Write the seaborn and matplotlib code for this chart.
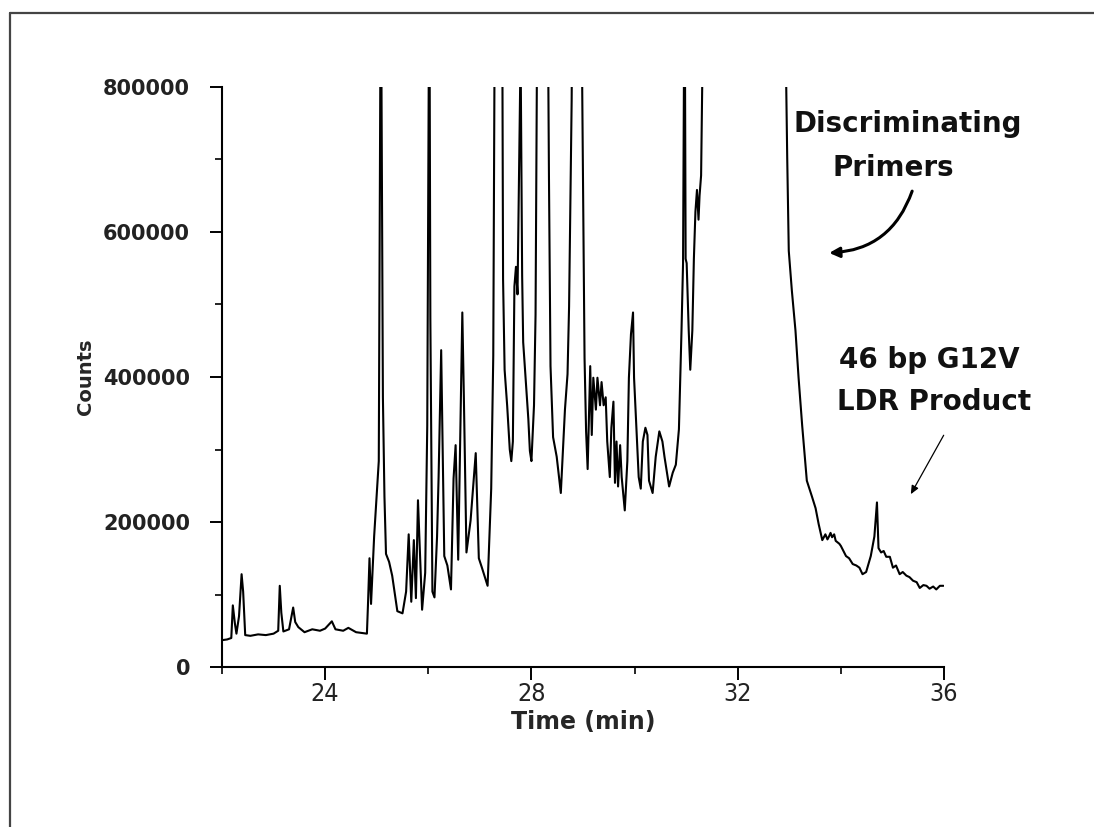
import numpy as np
import pandas as pd
import matplotlib
matplotlib.use("Agg")
import matplotlib.pyplot as plt
import seaborn as sns
from matplotlib.patches import FancyArrowPatch
from matplotlib.lines import Line2D
from matplotlib.ticker import MultipleLocator

# ---- data (time in min, counts) ----
time_min = [
    22.00, 22.10, 22.18, 22.21, 22.25, 22.28, 22.33, 22.38, 22.41, 22.45,
    22.55, 22.70, 22.85, 23.00, 23.09, 23.12, 23.15, 23.19, 23.30, 23.38,
    23.42, 23.48, 23.60, 23.75, 23.90, 24.00, 24.13, 24.20, 24.35, 24.45,
    24.60, 24.81, 24.83, 24.86, 24.89, 24.95, 25.00, 25.04, 25.08, 25.12,
    25.15, 25.18, 25.24, 25.30, 25.40, 25.50, 25.57, 25.62, 25.67, 25.72,
    25.76, 25.80, 25.88, 25.94, 25.98, 26.02, 26.04, 26.08, 26.12, 26.17,
    26.20, 26.25, 26.27, 26.31, 26.37, 26.44, 26.49, 26.53, 26.58, 26.66,
    26.69, 26.74, 26.82, 26.92, 26.98, 27.04, 27.15, 27.22, 27.26, 27.30,
    27.36, 27.43, 27.45, 27.48, 27.53, 27.58, 27.61, 27.64, 27.67, 27.70,
    27.73, 27.79, 27.82, 27.84, 27.90, 27.94, 27.97, 28.00, 28.05, 28.08,
    28.12, 28.20, 28.31, 28.34, 28.37, 28.42, 28.49, 28.57, 28.65, 28.70,
    28.73, 28.78, 28.82, 28.90, 28.96, 29.00, 29.03, 29.06, 29.09, 29.14,
    29.17, 29.20, 29.25, 29.28, 29.33, 29.36, 29.40, 29.44, 29.47, 29.52,
    29.55, 29.59, 29.62, 29.65, 29.68, 29.72, 29.75, 29.81, 29.86, 29.89,
    29.93, 29.97, 29.99, 30.03, 30.08, 30.12, 30.16, 30.21, 30.25, 30.28,
    30.35, 30.41, 30.48, 30.54, 30.58, 30.67, 30.74, 30.80, 30.86, 30.91,
    30.94, 30.97, 30.99, 31.01, 31.05, 31.08, 31.12, 31.15, 31.18, 31.21,
    31.24, 31.26, 31.29, 31.33, 31.40, 31.80, 32.40, 32.85, 32.94, 32.96,
    32.99, 33.05, 33.12, 33.18, 33.25, 33.30, 33.34, 33.39, 33.44, 33.51,
    33.57, 33.64, 33.70, 33.74, 33.77, 33.80, 33.83, 33.87, 33.90, 33.97,
    34.00, 34.05, 34.10, 34.16, 34.23, 34.30, 34.36, 34.42, 34.49, 34.58,
    34.65, 34.70, 34.73, 34.78, 34.83, 34.88, 34.95, 35.01, 35.07, 35.14,
    35.20, 35.27, 35.33, 35.40, 35.47, 35.53, 35.60, 35.66, 35.72, 35.79,
    35.85, 35.92, 35.99,
]
counts_k = [
    37, 38, 40, 85, 60, 46, 70, 128, 104, 44,
    43, 45, 44, 46, 50, 112, 75, 49, 52, 82,
    62, 55, 48, 52, 50, 53, 63, 52, 50, 54,
    48, 46, 85, 150, 87, 180, 238, 284, 1000, 372,
    235, 156, 145, 126, 77, 74, 104, 183, 90, 175,
    95, 230, 79, 130, 333, 1000, 481, 104, 96, 180,
    262, 437, 344, 153, 140, 107, 260, 306, 148, 489,
    372, 158, 202, 295, 150, 137, 112, 246, 429, 1100,
    1500, 1000, 535, 410, 360, 300, 284, 311, 525, 552,
    514, 850, 540, 448, 383, 342, 298, 284, 361, 486,
    1000, 1300, 1000, 675, 415, 317, 290, 240, 355, 404,
    497, 781, 1200, 1500, 1000, 675, 426, 325, 273, 415,
    320, 399, 355, 399, 361, 393, 361, 372, 311, 262,
    330, 366, 254, 311, 249, 306, 262, 216, 284, 399,
    459, 489, 399, 339, 262, 246, 311, 330, 320, 257,
    240, 290, 325, 311, 290, 249, 268, 279, 328, 464,
    557, 1000, 563, 557, 464, 410, 464, 563, 628, 658,
    617, 650, 678, 900, 1500, 3000, 3000, 1200, 805, 702,
    574, 519, 464, 399, 333, 290, 257, 246, 235, 219,
    197, 175, 183, 176, 180, 185, 179, 183, 174, 170,
    167, 160, 153, 150, 142, 140, 137, 128, 131, 153,
    180, 227, 164, 158, 160, 152, 152, 137, 140, 128,
    131, 126, 124, 119, 117, 109, 113, 112, 108, 111,
    107, 112, 112,
]
x_ticks = [24, 28, 32, 36]
y_ticks = [0, 200000, 400000, 600000, 800000]

df = pd.DataFrame({"time": time_min, "counts": np.array(counts_k) * 1000.0})

sns.set_style("white")
plt.rcParams["font.family"] = ["DejaVu Sans"]

fig = plt.figure(figsize=(10.94, 8.27), dpi=100)
ax = fig.add_axes([222 / 1094, 1 - 667 / 827, (944 - 222) / 1094, (667 - 87) / 827])

sns.lineplot(data=df, x="time", y="counts", ax=ax, color="black",
             linewidth=1.5, sort=False, estimator=None)

ax.set_xlim(22, 36)
ax.set_ylim(0, 800000)
ax.set_xticks(x_ticks)
ax.set_xticklabels([str(t) for t in x_ticks], fontsize=18, color="#222222",
                   fontstretch="condensed")
ax.set_yticks(y_ticks)
ax.set_yticklabels([str(v) for v in y_ticks], fontweight="bold",
                   fontsize=15, color="#222222")
ax.xaxis.set_minor_locator(MultipleLocator(2))
ax.yaxis.set_minor_locator(MultipleLocator(100000))
ax.tick_params(axis="both", which="major", direction="out", length=9,
               width=1.4, color="black", bottom=True, left=True)
ax.tick_params(axis="both", which="minor", direction="out", length=5,
               width=1.2, color="black", bottom=True, left=True)
ax.tick_params(axis="y", which="major", pad=14)
ax.tick_params(axis="x", which="major", pad=2)

for s in ["top", "right"]:
    ax.spines[s].set_visible(False)
for s in ["left", "bottom"]:
    ax.spines[s].set_color("black")
    ax.spines[s].set_linewidth(1.5)

ax.set_xlabel("Time (min)", fontweight="bold", fontsize=17, labelpad=3)
ax.set_ylabel("Counts", fontweight="bold", fontsize=14, labelpad=6)
ax.grid(False)

# annotations
tk = dict(fontweight="bold", fontsize=20, color="#111111")
ax.text(35.30, 738000, "Discriminating", ha="center", va="baseline", **tk)
ax.text(35.01, 677000, "Primers", ha="center", va="baseline", **tk)
ax.text(33.96, 412000, "46 bp G12V", ha="left", va="baseline", **tk)
ax.text(33.92, 354000, "LDR Product", ha="left", va="baseline", **tk)

arr1 = FancyArrowPatch((35.40, 660000), (33.72, 571000),
                       connectionstyle="arc3,rad=-0.35",
                       arrowstyle="-|>,head_length=6,head_width=3",
                       color="black", linewidth=2.2, clip_on=False)
ax.add_patch(arr1)
arr2 = FancyArrowPatch((36.02, 323000), (35.33, 235000),
                       arrowstyle="-|>,head_length=5,head_width=2.2",
                       color="black", linewidth=0.9, clip_on=False)
ax.add_patch(arr2)

# outer frame (top & left)
fig.add_artist(Line2D([10 / 1094, 1.0], [1 - 13 / 827, 1 - 13 / 827],
                      color="#444444", linewidth=1.6, transform=fig.transFigure))
fig.add_artist(Line2D([10 / 1094, 10 / 1094], [0.0, 1 - 13 / 827],
                      color="#444444", linewidth=1.6, transform=fig.transFigure))

fig.savefig("out.png", dpi=100, facecolor="white")
